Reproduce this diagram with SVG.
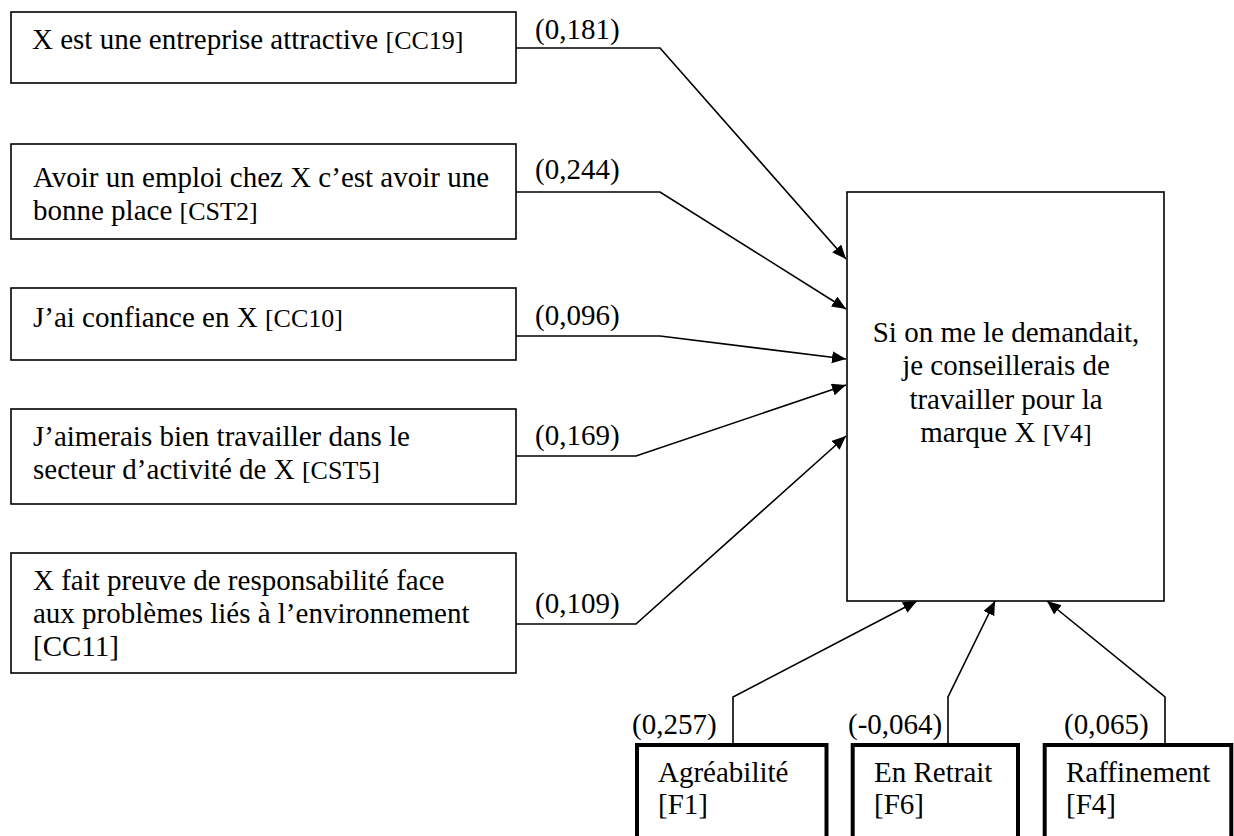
<svg xmlns="http://www.w3.org/2000/svg" width="1234" height="836" viewBox="0 0 1234 836">
  <style>
    .box { fill: #ffffff; stroke: #000000; stroke-width: 1.6; }
    .thick { fill: #ffffff; stroke: #000000; stroke-width: 4; }
    .t { font-family: "Liberation Serif", "Times New Roman", serif; font-size: 29px; fill: #000000; }
    .code { font-size: 26px; }
    .mid { text-anchor: middle; }
    .edge { fill: none; stroke: #000000; stroke-width: 1.6; stroke-linejoin: miter; }
  </style>
  <defs>
    <marker id="arrow" markerUnits="userSpaceOnUse" markerWidth="16" markerHeight="14" refX="14" refY="6" orient="auto">
      <path d="M0,0 L14,6 L0,12 z" fill="#000000"/>
    </marker>
  </defs>

  <rect width="1234" height="836" fill="#ffffff"/>

  <!-- connectors with their path coefficients -->
  <g id="connectors">
    <polyline class="edge" points="516,48 660,48 846,259" marker-end="url(#arrow)"/>
    <polyline class="edge" points="516,192 660,192 846,309" marker-end="url(#arrow)"/>
    <polyline class="edge" points="516,336 660,336 846,359" marker-end="url(#arrow)"/>
    <polyline class="edge" points="516,456 636,456 846,385" marker-end="url(#arrow)"/>
    <polyline class="edge" points="516,624 636,624 846,436" marker-end="url(#arrow)"/>
    <polyline class="edge" points="733,743 733,697 917,601" marker-end="url(#arrow)"/>
    <polyline class="edge" points="948,743 948,697 995,601" marker-end="url(#arrow)"/>
    <polyline class="edge" points="1165,743 1165,697 1047,601" marker-end="url(#arrow)"/>
    <text class="t" x="535" y="39">(0,181)</text>
    <text class="t" x="535" y="179">(0,244)</text>
    <text class="t" x="535" y="325">(0,096)</text>
    <text class="t" x="535" y="445">(0,169)</text>
    <text class="t" x="535" y="613">(0,109)</text>
    <text class="t" x="632" y="734">(0,257)</text>
    <text class="t" x="848" y="734">(-0,064)</text>
    <text class="t" x="1064" y="734">(0,065)</text>
  </g>

  <g id="cc19">
    <rect class="box" x="11" y="12" width="505" height="71"/>
    <text class="t" x="32" y="49">X est une entreprise attractive <tspan class="code">[CC19]</tspan></text>
  </g>

  <g id="cst2">
    <rect class="box" x="11" y="144" width="505" height="95"/>
    <text class="t" x="33" y="187">Avoir un emploi chez X c’est avoir une</text>
    <text class="t" x="33" y="220">bonne place <tspan class="code">[CST2]</tspan></text>
  </g>

  <g id="cc10">
    <rect class="box" x="11" y="288" width="505" height="72"/>
    <text class="t" x="33" y="327">J’ai confiance en X <tspan class="code">[CC10]</tspan></text>
  </g>

  <g id="cst5">
    <rect class="box" x="11" y="409" width="505" height="95"/>
    <text class="t" x="33" y="446">J’aimerais bien travailler dans le</text>
    <text class="t" x="33" y="479">secteur d’activité de X <tspan class="code">[CST5]</tspan></text>
  </g>

  <g id="cc11">
    <rect class="box" x="11" y="553" width="505" height="120"/>
    <text class="t" x="33" y="590">X fait preuve de responsabilité face</text>
    <text class="t" x="33" y="623">aux problèmes liés à l’environnement</text>
    <text class="t" x="33" y="656">[CC11]</text>
  </g>

  <g id="v4">
    <rect class="box" x="847" y="192" width="317" height="409"/>
    <text class="t mid" x="1006" y="342">Si on me le demandait,</text>
    <text class="t mid" x="1006" y="375">je conseillerais de</text>
    <text class="t mid" x="1006" y="409">travailler pour la</text>
    <text class="t mid" x="1006" y="442">marque X <tspan class="code">[V4]</tspan></text>
  </g>

  <g id="f1">
    <rect class="thick" x="637" y="745" width="189.5" height="110"/>
    <text class="t" x="658" y="782">Agréabilité</text>
    <text class="t" x="658" y="814">[F1]</text>
  </g>

  <g id="f6">
    <rect class="thick" x="852.7" y="745" width="165.3" height="110"/>
    <text class="t" x="874" y="782">En Retrait</text>
    <text class="t" x="874" y="814">[F6]</text>
  </g>

  <g id="f4">
    <rect class="thick" x="1044.7" y="745" width="186.6" height="110"/>
    <text class="t" x="1066" y="782">Raffinement</text>
    <text class="t" x="1066" y="814">[F4]</text>
  </g>
</svg>
